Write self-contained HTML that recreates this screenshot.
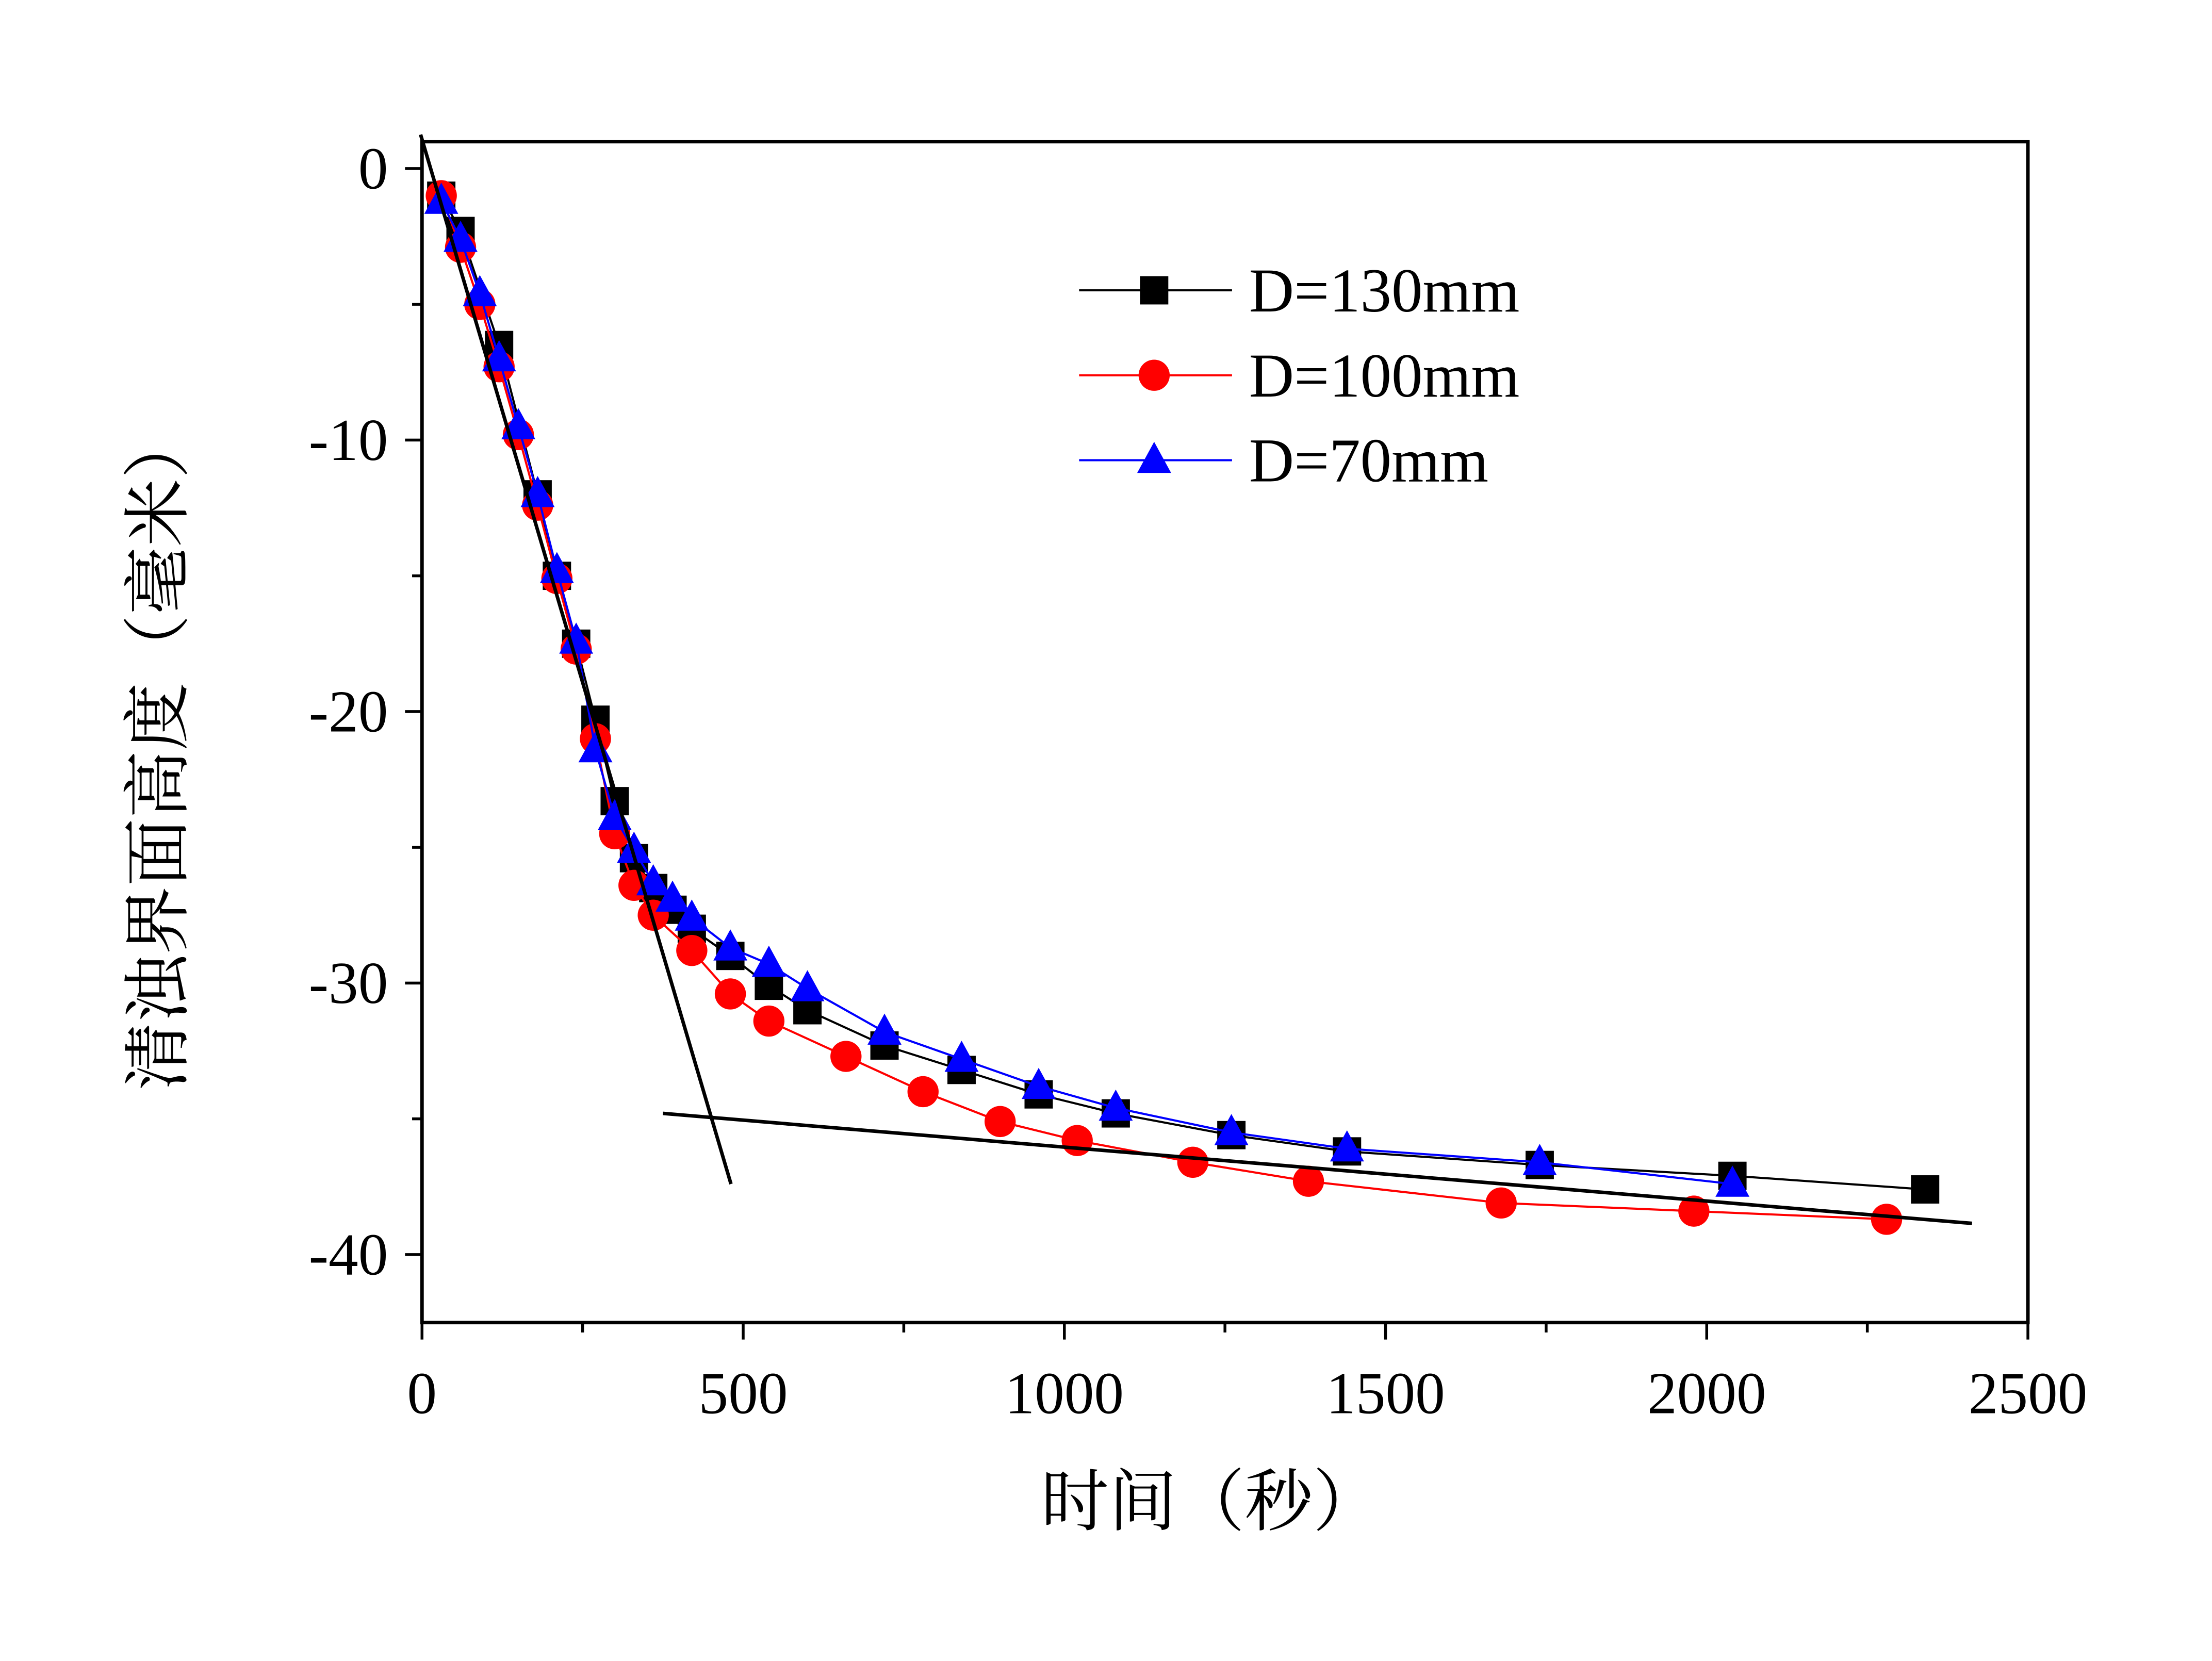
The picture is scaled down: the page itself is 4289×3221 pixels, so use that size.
<!DOCTYPE html>
<html><head><meta charset="utf-8"><style>html,body{margin:0;padding:0;background:#fff}svg{display:block}</style></head><body>
<svg width="4289" height="3221" viewBox="0 0 1562 1173" xmlns="http://www.w3.org/2000/svg" font-family="'Liberation Serif','Noto Serif CJK SC',serif">
<rect width="1562" height="1173" fill="#fff"/>
<g id="plot"></g>
<script>
const t130=[30,60,120,180,210,240,270,300,330,360,390,420,480,540,600,720,840,960,1080,1260,1440,1740,2040,2340];
const v130=[-1,-2.3,-6.5,-12,-15,-17.5,-20.3,-23.3,-25.4,-26.5,-27.3,-28,-29,-30.1,-31,-32.3,-33.2,-34.1,-34.8,-35.6,-36.2,-36.7,-37.1,-37.6];
const t100=[30,60,90,120,150,180,210,240,270,300,330,360,420,480,540,660,780,900,1020,1200,1380,1680,1980,2280];
const v100=[-1,-2.9,-5,-7.3,-9.8,-12.4,-15.1,-17.7,-21,-24.5,-26.4,-27.5,-28.8,-30.4,-31.4,-32.7,-34,-35.1,-35.8,-36.6,-37.3,-38.1,-38.4,-38.7];
const t70=[30,60,90,120,150,180,210,240,270,300,330,360,390,420,480,540,600,720,840,960,1080,1260,1440,1740,2040];
const v70=[-1.2,-2.6,-4.6,-7,-9.5,-12,-14.8,-17.4,-21.4,-23.9,-25.1,-26.3,-26.9,-27.6,-28.7,-29.3,-30.2,-31.8,-32.8,-33.8,-34.6,-35.5,-36.1,-36.6,-37.4];
const fit1=[[-2.2,1.25],[481,-37.4]];
const fit2=[[375,-34.8],[2413,-38.85]];
const xTicks=[0,500,1000,1500,2000,2500];
const yTicks=[0,-10,-20,-30,-40];
const NS='http://www.w3.org/2000/svg';
const g=document.getElementById('plot');
const X=t=>298+t/2500*1134;
const Y=v=>119-v*19.175;
function mk(tag,at,parent){const e=document.createElementNS(NS,tag);for(const k in at)e.setAttribute(k,at[k]);(parent||g).appendChild(e);return e;}
// axes box
let e=mk('rect',{x:298,y:100,width:1134,height:834,fill:'none',stroke:'#000','stroke-width':2.5});


for(let t=0;t<=2500;t+=250){e=mk('line',{x1:X(t),x2:X(t),y1:934,y2:t%500==0?946:941,stroke:'#000','stroke-width':2});

}
for(let v=0;v>=-42.5;v-=5){e=mk('line',{x1:v%10==0?286:291,x2:298,y1:Y(v),y2:Y(v),stroke:'#000','stroke-width':2});

}
xTicks.forEach(t=>{e=mk('text',{x:X(t),y:998,'font-size':42,'text-anchor':'middle'});e.textContent=t;

});
yTicks.forEach(v=>{e=mk('text',{x:274,y:Y(v)+14,'font-size':42,'text-anchor':'end'});e.textContent=v;

});
e=mk('text',{x:855,y:1077,'font-size':48,'text-anchor':'middle'});e.textContent='时间（秒）';


e=mk('text',{x:0,y:0,'font-size':48,'text-anchor':'middle',transform:'translate(128,530) rotate(-90)'});e.textContent='清浊界面高度（毫米）';


function marker(type,x,y,c,name){let m;
if(type=='s')m=mk('rect',{x:x-10,y:y-10,width:20,height:20,fill:c});
else if(type=='c')m=mk('circle',{cx:x,cy:y,r:11,fill:c});
else m=mk('polygon',{points:`${x},${y-13} ${x-12},${y+9} ${x+12},${y+9}`,fill:c});

}
function series(ts,vs,c,type,name){
e=mk('polyline',{points:ts.map((t,i)=>X(t)+','+Y(vs[i])).join(' '),fill:'none',stroke:c,'stroke-width':1.5});


ts.forEach((t,i)=>marker(type,X(t),Y(vs[i]),c,name+'-point'));}
series(t130,v130,'#000','s','d130');
series(t100,v100,'#f00','c','d100');
series(t70,v70,'#00f','t','d70');
[fit1,fit2].forEach((f,i)=>{e=mk('line',{x1:X(f[0][0]),y1:Y(f[0][1]),x2:X(f[1][0]),y2:Y(f[1][1]),stroke:'#000','stroke-width':2.5});

});
const leg=[['D=130mm','#000','s'],['D=100mm','#f00','c'],['D=70mm','#00f','t']];
leg.forEach((l,i)=>{const y=205+i*60;
e=mk('line',{x1:762,x2:870,y1:y,y2:y,stroke:l[1],'stroke-width':1.5});


marker(l[2],815,y,l[1],'legend-marker');
e=mk('text',{x:882,y:y+15,'font-size':44});e.textContent=l[0];

});
</script>
</svg>
</body></html>
